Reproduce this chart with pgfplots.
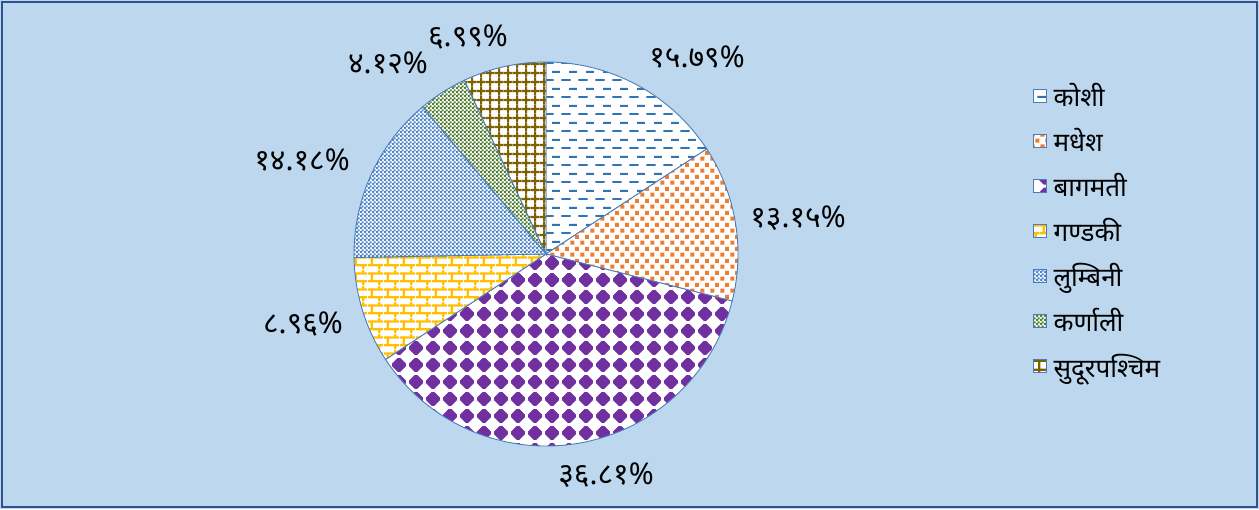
\documentclass[border=0pt]{standalone}
\usepackage{pgfplots}
\pgfplotsset{compat=1.18}
\usepackage{pgfplotstable}
\usetikzlibrary{patterns}
\usepackage{fontspec}
\setmainfont{Noto Sans}
\newfontfamily\deva[Script=Devanagari]{Noto Sans}

\definecolor{bgc}{HTML}{BDD7EE}
\definecolor{framec}{HTML}{2F528F}
\definecolor{piebd}{HTML}{4A7EBB}
\definecolor{kosi}{HTML}{2E75B6}
\definecolor{madhesh}{HTML}{ED7D31}
\definecolor{bagmati}{HTML}{7030A0}
\definecolor{gandaki}{HTML}{FFC000}
\definecolor{lumbini}{HTML}{4F86CC}
\definecolor{karnali}{HTML}{548235}
\definecolor{sudur}{HTML}{7F6000}

% horizontal dashes
\pgfdeclarepatternformonly{xhdash}{\pgfpointorigin}{\pgfpoint{17pt}{17pt}}{\pgfpoint{17pt}{17pt}}{%
  \pgfsetlinewidth{2pt}%
  \pgfpathmoveto{\pgfpoint{0.5pt}{4.25pt}}\pgfpathlineto{\pgfpoint{10pt}{4.25pt}}%
  \pgfpathmoveto{\pgfpoint{8.5pt}{12.75pt}}\pgfpathlineto{\pgfpoint{16.8pt}{12.75pt}}%
  \pgfusepath{stroke}}
% confetti squares
\pgfdeclarepatternformonly{xconfetti}{\pgfpointorigin}{\pgfpoint{10pt}{12pt}}{\pgfpoint{10pt}{12pt}}{%
  \pgfpathrectangle{\pgfpoint{0.5pt}{0.5pt}}{\pgfpoint{4.3pt}{4.3pt}}%
  \pgfpathrectangle{\pgfpoint{5.5pt}{6.5pt}}{\pgfpoint{4.3pt}{4.3pt}}%
  \pgfusepath{fill}}
% solid diamonds
\pgfdeclarepatternformonly{xdiamonds}{\pgfpointorigin}{\pgfpoint{17pt}{17pt}}{\pgfpoint{17pt}{17pt}}{%
  \pgfpathmoveto{\pgfpoint{7pt}{1.3pt}}\pgfpathlineto{\pgfpoint{10pt}{1.3pt}}%
  \pgfpathlineto{\pgfpoint{15.7pt}{7pt}}\pgfpathlineto{\pgfpoint{15.7pt}{10pt}}%
  \pgfpathlineto{\pgfpoint{10pt}{15.7pt}}\pgfpathlineto{\pgfpoint{7pt}{15.7pt}}%
  \pgfpathlineto{\pgfpoint{1.3pt}{10pt}}\pgfpathlineto{\pgfpoint{1.3pt}{7pt}}\pgfpathclose
  \pgfusepath{fill}}
% bricks
\pgfdeclarepatternformonly{xbricks}{\pgfpointorigin}{\pgfpoint{16pt}{16pt}}{\pgfpoint{16pt}{16pt}}{%
  \pgfsetlinewidth{2.4pt}%
  \pgfpathmoveto{\pgfpoint{0pt}{4pt}}\pgfpathlineto{\pgfpoint{16pt}{4pt}}%
  \pgfpathmoveto{\pgfpoint{0pt}{12pt}}\pgfpathlineto{\pgfpoint{16pt}{12pt}}%
  \pgfpathmoveto{\pgfpoint{4pt}{4pt}}\pgfpathlineto{\pgfpoint{4pt}{12pt}}%
  \pgfpathmoveto{\pgfpoint{12pt}{12pt}}\pgfpathlineto{\pgfpoint{12pt}{16pt}}%
  \pgfpathmoveto{\pgfpoint{12pt}{0pt}}\pgfpathlineto{\pgfpoint{12pt}{4pt}}%
  \pgfusepath{stroke}}
% fine checker
\pgfdeclarepatternformonly{xfchecker}{\pgfpointorigin}{\pgfpoint{4pt}{4pt}}{\pgfpoint{4pt}{4pt}}{%
  \pgfpathrectangle{\pgfpointorigin}{\pgfpoint{2.4pt}{2.4pt}}%
  \pgfpathrectangle{\pgfpoint{2pt}{2pt}}{\pgfpoint{2.4pt}{2.4pt}}%
  \pgfusepath{fill}}
% grid
\pgfdeclarepatternformonly{xbgrid}{\pgfpointorigin}{\pgfpoint{9pt}{9pt}}{\pgfpoint{9pt}{9pt}}{%
  \pgfsetlinewidth{2.4pt}%
  \pgfpathmoveto{\pgfpoint{4.5pt}{-0.5pt}}\pgfpathlineto{\pgfpoint{4.5pt}{9.5pt}}%
  \pgfpathmoveto{\pgfpoint{-0.5pt}{4.5pt}}\pgfpathlineto{\pgfpoint{9.5pt}{4.5pt}}%
  \pgfusepath{stroke}}

\pgfplotstableread{
value pat col
15.79 xhdash kosi
13.15 xconfetti madhesh
36.81 xdiamonds bagmati
8.96 xbricks gandaki
14.18 xfchecker lumbini
4.12 xfchecker karnali
6.99 xbgrid sudur
}\piedata

\begin{document}
\begin{tikzpicture}
\fill[bgc] (0pt,0pt) rectangle (1259pt,509pt);
\draw[framec, line width=1.3pt] (2pt,2pt) rectangle (1257pt,507pt);
\begin{axis}[
  x=1pt, y=1pt, xmin=0, xmax=1259, ymin=0, ymax=509,
  hide axis, clip=false,
  legend style={at={(axis cs:1030,430)}, anchor=north west, draw=none, fill=none,
     nodes={font=\deva\fontsize{26}{30}\selectfont}, row sep=16.3pt,
     /tikz/every odd column/.append style={column sep=5pt}},
  legend cell align=left,
  legend image code/.code={\draw[#1] (0pt,-6.5pt) rectangle (13pt,6.5pt);},
]
\pgfplotstablegetrowsof{\piedata}
\pgfmathtruncatemacro\slN{\pgfplotsretval-1}
\gdef\slacc{90}
\pgfplotsforeachungrouped \i in {0,...,\slN}{%
  \pgfplotstablegetelem{\i}{value}\of\piedata \let\slval\pgfplotsretval
  \pgfplotstablegetelem{\i}{pat}\of\piedata \let\slpat\pgfplotsretval
  \pgfplotstablegetelem{\i}{col}\of\piedata \let\slcol\pgfplotsretval
  \pgfmathsetmacro\slend{\slacc-3.6*\slval}%
  \edef\sltemp{\noexpand\draw[piebd, line width=0.9pt, preaction={fill=white}, preaction={pattern=\slpat, pattern color=\slcol}] (axis cs:546,255) -- ++(\slacc:192pt) arc[start angle=\slacc, end angle=\slend, radius=192pt] -- cycle;}%
  \sltemp
  \xdef\slacc{\slend}%
}
\addlegendimage{draw=piebd, fill=white, postaction={pattern=xhdash, pattern color=kosi}}
\addlegendimage{draw=piebd, fill=white, postaction={pattern=xconfetti, pattern color=madhesh}}
\addlegendimage{draw=piebd, fill=white, postaction={pattern=xdiamonds, pattern color=bagmati}}
\addlegendimage{draw=piebd, fill=white, postaction={pattern=xbricks, pattern color=gandaki}}
\addlegendimage{draw=piebd, fill=white, postaction={pattern=xfchecker, pattern color=lumbini}}
\addlegendimage{draw=piebd, fill=white, postaction={pattern=xfchecker, pattern color=karnali}}
\addlegendimage{draw=piebd, fill=white, postaction={pattern=xbgrid, pattern color=sudur}}
\legend{कोशी, मधेश, बागमती, गण्डकी, लुम्बिनी, कर्णाली, सुदूरपश्चिम}

\tikzset{lbl/.style={font=\deva\fontsize{30}{34}\selectfont, inner sep=0pt}}
\node[lbl] at (axis cs:697,452) {१५.७९\%};
\node[lbl] at (axis cs:798,291) {१३.१५\%};
\node[lbl] at (axis cs:606,34) {३६.८१\%};
\node[lbl] at (axis cs:303,185) {८.९६\%};
\node[lbl] at (axis cs:302,349) {१४.१८\%};
\node[lbl] at (axis cs:388,446) {४.१२\%};
\node[lbl] at (axis cs:468,472) {६.९९\%};
\end{axis}
\end{tikzpicture}
\end{document}
